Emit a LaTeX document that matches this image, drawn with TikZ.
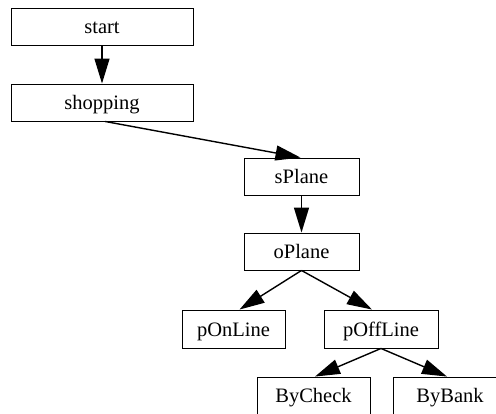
\documentclass[tikz,border=0pt]{standalone}
\usepackage{fontspec}
\setmainfont{Liberation Serif}
\usetikzlibrary{arrows.meta}
\begin{document}
\begin{tikzpicture}[x=1pt,y=-1pt,
  box/.style={draw=black,line width=0.9pt,inner sep=0pt,
    font=\fontsize{20.5}{24}\selectfont,text height=14.5pt,text depth=0pt,
    minimum height=37pt},
  edge/.style={draw=black,line width=1.4pt,-{Triangle[length=25pt,width=15pt]}}]
\clip (0,0) rectangle (496,413);
\fill[white] (0,0) rectangle (496,413);
\node[box,minimum width=182pt] (start) at (102,26.5) {start};
\node[box,minimum width=182pt] (shopping) at (102,102.5) {shopping};
\node[box,minimum width=115pt] (sPlane) at (301.5,176.5) {sPlane};
\node[box,minimum width=115pt] (oPlane) at (301.5,251.5) {oPlane};
\node[box,minimum width=103pt,minimum height=38pt] (pOnLine) at (233.5,329) {pOnLine};
\node[box,minimum width=114pt,minimum height=38pt] (pOffLine) at (381,329) {pOffLine};
\node[box,minimum width=113pt] (ByCheck) at (313.5,395.5) {ByCheck};
\node[box,minimum width=114pt] (ByBank) at (450,395.5) {ByBank};
\draw[edge] (start.south) -- (shopping.north);
\draw[edge] ([xshift=3pt]shopping.south) -- ([xshift=-1pt]sPlane.north);
\draw[edge] (sPlane.south) -- (oPlane.north);
\draw[edge] (oPlane.south) -- ([xshift=6pt]pOnLine.north);
\draw[edge] (oPlane.south) -- ([xshift=-9pt]pOffLine.north);
\draw[edge] (pOffLine.south) -- ([xshift=1.5pt]ByCheck.north);
\draw[edge] (pOffLine.south) -- ([xshift=-3pt]ByBank.north);
\end{tikzpicture}
\end{document}
